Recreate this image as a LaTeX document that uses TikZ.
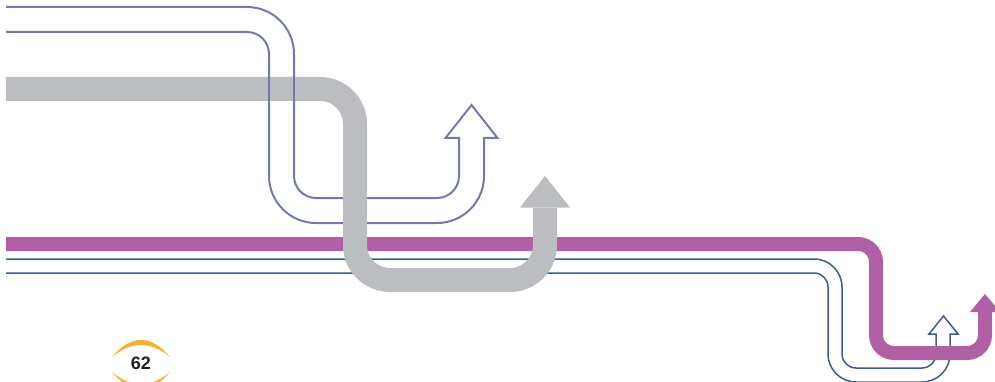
\documentclass[tikz,border=0pt]{standalone}
\usepackage{fontspec}
\newfontfamily\badgefont{Liberation Sans}
\definecolor{lav}{HTML}{7478B1}
\definecolor{gry}{HTML}{BCBDC0}
\definecolor{purp}{HTML}{B160A6}
\definecolor{navyc}{HTML}{3C5A99}
\definecolor{goldc}{HTML}{F4B22F}
\definecolor{inkc}{HTML}{231F20}
\tikzset{
  lavline/.style={draw=lav, line width=2pt, line join=miter},
  navyline/.style={draw=navyc, line width=1.5pt, line join=miter},
  grayband/.style={draw=gry, line width=24pt, line cap=butt},
  purpband/.style={draw=purp, line width=14pt, line cap=butt},
}
\begin{document}
\begin{tikzpicture}[x=1pt,y=-1pt]
\useasboundingbox (0,0) rectangle (995,382);
\clip (0,0) rectangle (995,382);
% navy double line with hollow arrow
\draw[navyline] (6,259) -- (814,259) arc[start angle=270,end angle=360,radius=28]
  -- (842,354) arc[start angle=180,end angle=90,radius=14]
  -- (922,368) arc[start angle=90,end angle=0,radius=14]
  -- (936,334) -- (929,334) -- (943.5,316) -- (958,334) -- (950,334)
  -- (950,354) arc[start angle=0,end angle=90,radius=28]
  -- (856,382) arc[start angle=90,end angle=180,radius=28]
  -- (828,287) arc[start angle=0,end angle=-90,radius=14] -- (6,273);
% purple band
\draw[purpband] (6,244) -- (858,244) arc[start angle=270,end angle=360,radius=18]
  -- (876,335) arc[start angle=180,end angle=90,radius=18]
  -- (967,353) arc[start angle=90,end angle=0,radius=18] -- (985,311.5);
\fill[purp] (970,312) -- (985,294) -- (1000,312) -- cycle;
% lavender hollow arrow
\draw[lavline] (6,7) -- (247,7) arc[start angle=270,end angle=360,radius=47]
  -- (294,176) arc[start angle=180,end angle=90,radius=22]
  -- (437,198) arc[start angle=90,end angle=0,radius=22]
  -- (459,138) -- (445.5,138) -- (471.5,105) -- (497.5,138) -- (484,138)
  -- (484,176) arc[start angle=0,end angle=90,radius=47]
  -- (316,223) arc[start angle=90,end angle=180,radius=47]
  -- (269,54) arc[start angle=0,end angle=-90,radius=22] -- (6,32);
% gray band
\draw[grayband] (6,89) -- (320,89) arc[start angle=270,end angle=360,radius=35]
  -- (355,245) arc[start angle=180,end angle=90,radius=35]
  -- (510,280) arc[start angle=90,end angle=0,radius=35] -- (545,207.5);
\fill[gry] (520,207.5) -- (545,176) -- (570,207.5) -- cycle;
% lavender lines passing over the gray band
\draw[lavline] (269,65) -- (269,112);
\draw[lavline] (294,65) -- (294,112);
% page badge
\fill[goldc] (112,357) .. controls (131,334.3) and (151,334.3) .. (170,357)
  .. controls (151,341) and (131,341) .. (112,357) -- cycle;
\fill[goldc] (112,372) .. controls (131,394.7) and (151,394.7) .. (170,372)
  .. controls (151,388) and (131,388) .. (112,372) -- cycle;
\node[font=\badgefont\bfseries\fontsize{18}{18}\selectfont, text=inkc, inner sep=0pt] (pg) at (141,363.5) {62};
\end{tikzpicture}
\end{document}
